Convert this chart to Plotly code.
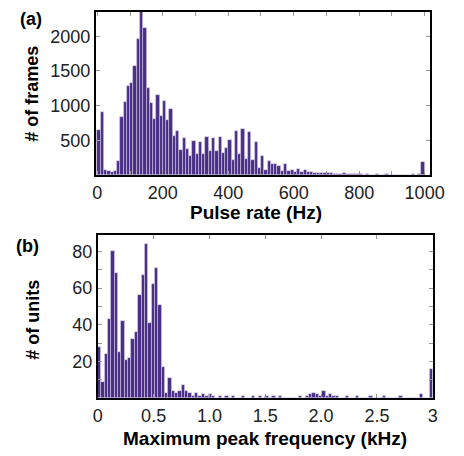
import plotly.graph_objects as go

# ---------------- data ----------------
BIN_A = 10.0  # Hz
counts_a = [648, 908, 70, 58, 43, 58, 200, 835, 1050, 1280,
            1325, 1570, 1960, 2400, 2115, 1250, 1040, 805, 1155, 850,
            1070, 795, 950, 560, 635, 360, 530, 375, 275, 490,
            300, 475, 300, 545, 350, 533, 350, 552, 312, 385,
            500, 220, 634, 307, 658, 226, 624, 216, 480, 106,
            278, 72, 200, 163, 158, 125, 58, 154, 53, 72,
            39, 86, 43, 76, 39, 43, 29, 22, 32, 22,
            22, 25, 18, 20, 15, 22, 12, 15, 10, 12,
            8, 6, 10, 5, 7, 9, 5, 6, 8, 4,
            6, 5, 7, 4, 6, 5, 8, 6, 9, 190]
centers_a = [(i + 0.5) * BIN_A for i in range(len(counts_a))]

BIN_B = 0.03  # kHz
counts_b = [28, 9, 24, 43, 80, 68, 25, 42, 21, 22,
            32, 36, 56, 67, 84, 41, 62, 71, 51, 17,
            3, 11, 4, 3, 4, 7, 4, 3, 1, 3,
            1, 2, 1, 2, 1, 0, 1, 0, 1, 0,
            1, 0, 0, 1, 0, 0, 1, 0, 1, 0,
            1, 0, 1, 0, 1, 0, 0, 0, 0, 0,
            1, 0, 1, 2, 3, 2, 1, 4, 1, 2,
            1, 1, 0, 0, 1, 0, 0, 1, 0, 0,
            0, 1, 0, 0, 0, 1, 0, 0, 0, 0,
            1, 0, 0, 0, 0, 0, 2, 0, 0, 16]
centers_b = [(i + 0.5) * BIN_B for i in range(len(counts_b))]

xticks_a = [0, 200, 400, 600, 800, 1000]
yticks_a = [500, 1000, 1500, 2000]
xticks_b = [0, 0.5, 1.0, 1.5, 2.0, 2.5, 3.0]
xticklabels_b = ["0", "0.5", "1.0", "1.5", "2.0", "2.5", "3"]
yticks_b = [20, 40, 60, 80]

# ---------------- figure ----------------
W, H = 464, 456
BAR_COLOR = "#4a2f86"
EDGE = "rgba(215,208,232,0.9)"
FONT = "Liberation Sans, Arial, sans-serif"

def px_x(a, b):
    return [a / W, b / W]

def px_y(top, bottom):
    return [1 - bottom / H, 1 - top / H]

fig = go.Figure()
fig.add_trace(go.Bar(x=centers_a, y=counts_a, width=BIN_A, marker=dict(color=BAR_COLOR, line=dict(color=EDGE, width=0.6)),
                     xaxis="x", yaxis="y", showlegend=False))
fig.add_trace(go.Bar(x=centers_b, y=counts_b, width=BIN_B, marker=dict(color=BAR_COLOR, line=dict(color=EDGE, width=0.6)),
                     xaxis="x2", yaxis="y2", showlegend=False))

axis_common = dict(showline=True, linecolor="black", linewidth=2, mirror="ticks",
                   ticks="inside", ticklen=4, tickcolor="#999", tickwidth=1,
                   showgrid=False, zeroline=False,
                   tickfont=dict(family=FONT, size=18, color="#222"))

fig.update_layout(
    width=W, height=H,
    margin=dict(l=0, r=0, t=0, b=0),
    paper_bgcolor="white", plot_bgcolor="white",
    bargap=0,
    xaxis=dict(domain=px_x(95, 444), range=[-4.4, 1016], tickvals=xticks_a,
               minor=dict(dtick=100, tick0=0, ticks="inside", ticklen=4, tickcolor="#999"),
               anchor="y", **axis_common),
    yaxis=dict(domain=px_y(12, 175), range=[0, 2350], tickvals=yticks_a,
               anchor="x", **axis_common),
    xaxis2=dict(domain=px_x(97, 447), range=[0, 3.0], tickvals=xticks_b, ticktext=xticklabels_b,
                minor=dict(dtick=0.5, tick0=0, ticks="inside", ticklen=4, tickcolor="#999"),
                anchor="y2", **axis_common),
    yaxis2=dict(domain=px_y(235, 398), range=[0, 89], tickvals=yticks_b,
                minor=dict(dtick=10, tick0=0, ticks="inside", ticklen=4, tickcolor="#999"),
                anchor="x2", **axis_common),
)

def ann(text, x, y, angle=0, size=18):
    fig.add_annotation(text=text, x=x / W, y=1 - y / H, xref="paper", yref="paper",
                       showarrow=False, textangle=angle, xanchor="center", yanchor="middle",
                       font=dict(family=FONT, size=size, color="black"))

ann("<b>(a)</b>", 27, 19, size=18)
ann("<b>(b)</b>", 24, 246, size=18)
ann("<b># of frames</b>", 28, 94, angle=-90)
ann("<b># of units</b>", 29, 320, angle=-90)
ann("<b>Pulse rate (Hz)</b>", 262, 213, size=19)
ann("<b>Maximum peak frequency (kHz)</b>", 272, 438, size=19)

fig.write_html("out.html")
